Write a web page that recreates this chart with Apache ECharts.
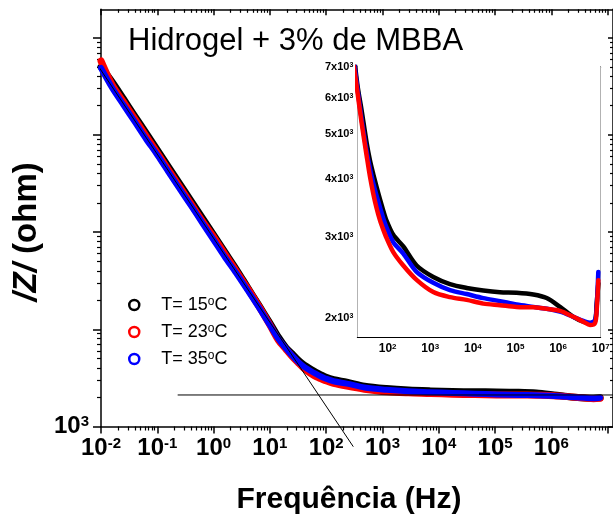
<!DOCTYPE html>
<html>
<head>
<meta charset="utf-8">
<script src="https://cdn.jsdelivr.net/npm/echarts@6/dist/echarts.min.js"></script>
<style>
html,body{margin:0;padding:0;background:#fff;overflow:hidden;}
#c{width:613px;height:521px;}
</style>
</head>
<body>
<div id="c"></div>
<script>
// ---- data ----
const FREQ = [0.01, 0.0158, 0.0251, 0.0398, 0.0631, 0.1, 0.158, 0.251, 0.398, 0.631, 1, 1.58, 2.51, 3.98, 6.31, 10, 14.1,
  19.4, 24.5, 32.1, 38.5, 46.0, 55.1, 65.9, 78.9, 94.6, 135.5, 232.8, 478.6, 1178, 2897, 7145, 17580, 43250, 106400,
  262400, 539500, 1.109e6, 2.28e6, 3.91e6, 5.61e6, 7.35e6, 8.04e6, 8.79e6];
const Z_15 = [5.00e6, 3.50e6, 2.34e6, 1.56e6, 1.047e6, 7.00e5, 4.68e5, 3.13e5, 2.09e5, 1.40e5, 9.34e4, 6.24e4, 4.17e4, 2.72e4, 1.78e4, 1.16e4, 8330,
  6430, 5640, 4800, 4390, 4100, 3845, 3620, 3420, 3250, 3030, 2860, 2600, 2455, 2370, 2325, 2295, 2276, 2270,
  2250, 2210, 2115, 2013, 1964, 1950, 1972, 2150, 2377];
const Z_23 = [5.76e6, 3.26e6, 2.18e6, 1.46e6, 9.75e5, 6.51e5, 4.35e5, 2.91e5, 1.95e5, 1.30e5, 8.91e4, 5.96e4, 3.98e4, 2.66e4, 1.74e4, 1.107e4, 7760,
  6210, 5300, 4500, 4050, 3720, 3460, 3260, 3110, 2980, 2780, 2600, 2420, 2277, 2220, 2190, 2150, 2133, 2115,
  2110, 2095, 2074, 2013, 1964, 1932, 1950, 2080, 2415];
const Z_35 = [4.88e6, 3.04e6, 2.03e6, 1.36e6, 9.08e5, 6.21e5, 4.15e5, 2.77e5, 1.86e5, 1.24e5, 8.29e4, 5.55e4, 3.79e4, 2.54e4, 1.69e4, 1.10e4, 8000,
  6320, 5400, 4600, 4215, 3920, 3680, 3480, 3290, 3140, 2920, 2760, 2520, 2385, 2300, 2255, 2210, 2177, 2140,
  2115, 2095, 2065, 2013, 1972, 1953, 1980, 2112, 2518];
const NAMES = ['T= 15°C', 'T= 23°C', 'T= 35°C'];
const COLORS = ['#000000', '#ff0000', '#0000ff'];
const MAIN_POINTS = 42; // points shown in the main panel (the sharp upturn only appears in the inset)
// guide lines
const DIAG_LINE = [[0.00702, 6.28e6], [303, 620]];
const HORIZ_LINE = [[0.23, 2110], [1.244e7, 2110]];
// axes ticks
const MAIN_X_TICKS = [0.01, 0.1, 1, 10, 100, 1e3, 1e4, 1e5, 1e6, 1e7];
const MAIN_X_LABELS = [0.01, 0.1, 1, 10, 100, 1e3, 1e4, 1e5, 1e6];
const MAIN_Y_TICKS = [1e3, 1e4, 1e5, 1e6, 1e7];
const MAIN_Y_LABELS = [1e3];
const INSET_X_TICKS = [100, 1e3, 1e4, 1e5, 1e6, 1e7];
const INSET_Y_TICKS = [2000, 3000, 4000, 5000, 6000, 7000];
const INSET_Y_MINORS = [2200, 2400, 2600, 2800, 3200, 3400, 3600, 3800, 4200, 4400, 4600, 4800, 5200, 5400, 5600, 5800, 6200, 6400, 6600, 6800];

const FONT = '"Liberation Sans", Arial, Helvetica, sans-serif';

function logMinors(eLo, eHi) {
  const out = [];
  for (let e = eLo; e <= eHi; e++) for (let k = 2; k <= 9; k++) out.push(+(k * Math.pow(10, e)).toPrecision(6));
  return out;
}
function pairs(zs, n) { return FREQ.slice(0, n).map((f, i) => [f, zs[i]]); }
function expLabel(v) {
  const e = Math.round(Math.log10(v));
  return '{b|10}{s|' + e + '}';
}

const MX = {min: 0.01, max: 1.244e7};
const MY = {min: 1000, max: 1.96e7};
const IX = {min: 19.4, max: 1e7};
const IY = {min: 1820, max: 7000};
const AX_LINE = {show: true, lineStyle: {color: '#000', width: 1.5}};
const NO_LINE = {show: false};

function axis(base) { return Object.assign({type: 'log', logBase: 10, splitLine: {show: false}}, base); }

const bigRich = {
  b: {fontSize: 24, fontWeight: 'bold', fontFamily: FONT, color: '#000'},
  s: {fontSize: 15, fontWeight: 'bold', fontFamily: FONT, color: '#000', verticalAlign: 'top'}
};
const smallRich = {
  b: {fontSize: 12, fontWeight: 'bold', fontFamily: FONT, color: '#000'},
  s: {fontSize: 8, fontWeight: 'bold', fontFamily: FONT, color: '#000', verticalAlign: 'top'}
};

const xAxes = [
  axis(Object.assign({gridIndex: 0, position: 'bottom', axisLine: AX_LINE,
    axisTick: {show: true, inside: false, length: 7, lineStyle: {color: '#000', width: 1.5}, customValues: MAIN_X_TICKS},
    axisLabel: {show: true, margin: 10, customValues: MAIN_X_LABELS, formatter: expLabel, rich: bigRich},
    name: 'Frequência (Hz)', nameLocation: 'middle', nameGap: 58,
    nameTextStyle: {fontSize: 30, fontWeight: 'bold', fontFamily: FONT, color: '#000', padding: [0, 16, 0, 0]}}, MX)),
  axis(Object.assign({gridIndex: 0, position: 'bottom', axisLine: NO_LINE,
    axisTick: {show: true, inside: false, length: 4, lineStyle: {color: '#000', width: 1.2}, customValues: logMinors(-2, 6)},
    axisLabel: {show: false}}, MX)),
  axis(Object.assign({gridIndex: 0, position: 'top', axisLine: AX_LINE,
    axisTick: {show: true, inside: true, length: 6, lineStyle: {color: '#000', width: 1.5}, customValues: MAIN_X_TICKS},
    axisLabel: {show: false}}, MX)),
  axis(Object.assign({gridIndex: 0, position: 'top', axisLine: NO_LINE,
    axisTick: {show: true, inside: true, length: 3.5, lineStyle: {color: '#000', width: 1.2}, customValues: logMinors(-2, 6)},
    axisLabel: {show: false}}, MX)),
  axis(Object.assign({gridIndex: 1, position: 'bottom', axisLine: {show: true, lineStyle: {color: '#000', width: 1}},
    axisTick: {show: true, inside: true, length: 4, lineStyle: {color: '#000', width: 1}, customValues: INSET_X_TICKS},
    axisLabel: {show: true, margin: 6, customValues: INSET_X_TICKS, formatter: expLabel, rich: smallRich}}, IX)),
  axis(Object.assign({gridIndex: 1, position: 'bottom', axisLine: NO_LINE,
    axisTick: {show: true, inside: true, length: 2, lineStyle: {color: '#000', width: 1}, customValues: logMinors(1, 6)},
    axisLabel: {show: false}}, IX)),
  axis(Object.assign({gridIndex: 1, position: 'top', axisLine: {show: true, lineStyle: {color: '#000', width: 1}},
    axisTick: {show: true, inside: true, length: 4, lineStyle: {color: '#000', width: 1}, customValues: INSET_X_TICKS},
    axisLabel: {show: false}}, IX)),
  axis(Object.assign({gridIndex: 1, position: 'top', axisLine: NO_LINE,
    axisTick: {show: true, inside: true, length: 2, lineStyle: {color: '#000', width: 1}, customValues: logMinors(1, 6)},
    axisLabel: {show: false}}, IX))
];

const yAxes = [
  axis(Object.assign({gridIndex: 0, position: 'left', axisLine: AX_LINE,
    axisTick: {show: true, inside: false, length: 8, lineStyle: {color: '#000', width: 1.5}, customValues: MAIN_Y_TICKS},
    axisLabel: {show: true, margin: 12, customValues: MAIN_Y_LABELS, formatter: expLabel, rich: bigRich},
    name: '{i|/Z/} (ohm)', nameLocation: 'middle', nameGap: 39, nameRotate: 90,
    nameTextStyle: {fontSize: 33, fontWeight: 'bold', fontFamily: FONT, color: '#000', padding: [0, 28, 0, 0],
      rich: {i: {fontSize: 33, fontWeight: 'bold', fontStyle: 'italic', fontFamily: FONT, color: '#000'}}}}, MY)),
  axis(Object.assign({gridIndex: 0, position: 'left', axisLine: NO_LINE,
    axisTick: {show: true, inside: false, length: 4, lineStyle: {color: '#000', width: 1.2}, customValues: logMinors(3, 7)},
    axisLabel: {show: false}}, MY)),
  axis(Object.assign({gridIndex: 0, position: 'right', axisLine: AX_LINE,
    axisTick: {show: true, inside: true, length: 5, lineStyle: {color: '#000', width: 1.5}, customValues: MAIN_Y_TICKS},
    axisLabel: {show: false}}, MY)),
  axis(Object.assign({gridIndex: 0, position: 'right', axisLine: NO_LINE,
    axisTick: {show: true, inside: true, length: 3, lineStyle: {color: '#000', width: 1.2}, customValues: logMinors(3, 7)},
    axisLabel: {show: false}}, MY)),
  axis(Object.assign({gridIndex: 1, position: 'left', axisLine: {show: true, lineStyle: {color: '#000', width: 1}},
    axisTick: {show: true, inside: true, length: 4, lineStyle: {color: '#000', width: 1}, customValues: INSET_Y_TICKS},
    axisLabel: {show: true, margin: 4, customValues: INSET_Y_TICKS,
      formatter: v => '{b|' + Math.round(v / 1000) + 'x10}{s|3}',
      rich: {b: {fontSize: 11, fontWeight: 'bold', fontFamily: FONT, color: '#000'},
             s: {fontSize: 7, fontWeight: 'bold', fontFamily: FONT, color: '#000', verticalAlign: 'top'}}}}, IY)),
  axis(Object.assign({gridIndex: 1, position: 'left', axisLine: NO_LINE,
    axisTick: {show: true, inside: true, length: 2, lineStyle: {color: '#000', width: 1}, customValues: INSET_Y_MINORS},
    axisLabel: {show: false}}, IY)),
  axis(Object.assign({gridIndex: 1, position: 'right', axisLine: {show: true, lineStyle: {color: '#000', width: 1}},
    axisTick: {show: true, inside: true, length: 4, lineStyle: {color: '#000', width: 1}, customValues: INSET_Y_TICKS},
    axisLabel: {show: false}}, IY)),
  axis(Object.assign({gridIndex: 1, position: 'right', axisLine: NO_LINE,
    axisTick: {show: true, inside: true, length: 2, lineStyle: {color: '#000', width: 1}, customValues: INSET_Y_MINORS},
    axisLabel: {show: false}}, IY))
];

function curve(i, inset, width) {
  return {
    name: NAMES[i], type: 'line', xAxisIndex: inset ? 4 : 0, yAxisIndex: inset ? 4 : 0,
    data: pairs([Z_15, Z_23, Z_35][i], inset ? FREQ.length : MAIN_POINTS), smooth: 0.3,
    symbol: 'emptyCircle', symbolSize: 4, showSymbol: false,
    itemStyle: {color: COLORS[i], borderColor: COLORS[i], borderWidth: 1},
    lineStyle: {color: COLORS[i], width: width, cap: 'round', join: 'round'},
    emphasis: {disabled: true}, animation: false, clip: true
  };
}

const series = [
  curve(0, false, 7), curve(1, false, 7), curve(2, false, 6),
  {type: 'line', xAxisIndex: 0, yAxisIndex: 0, data: DIAG_LINE, symbol: 'none', clip: false,
   lineStyle: {color: '#000', width: 1}, animation: false, silent: true},
  {type: 'line', xAxisIndex: 0, yAxisIndex: 0, data: HORIZ_LINE, symbol: 'none', clip: true,
   lineStyle: {color: '#000', width: 1}, animation: false, silent: true},
  curve(0, true, 4.5), curve(2, true, 4.5), curve(1, true, 4.5)
];

const chart = echarts.init(document.getElementById('c'), null, {renderer: 'canvas'});
chart.setOption({
  backgroundColor: '#fff',
  animation: false,
  title: {text: 'Hidrogel + 3% de MBBA', left: 128, top: 26, padding: 0,
    textStyle: {fontSize: 31, fontWeight: 'normal', fontFamily: FONT, color: '#000'}},
  legend: {
    orient: 'vertical', left: 123, top: 291, itemWidth: 44, itemHeight: 10, itemGap: 9,
    icon: 'circle', selectedMode: false,
    data: NAMES.map((n, i) => ({name: n, itemStyle: {color: '#fff', borderColor: COLORS[i], borderWidth: 2.5}})),
    formatter: n => n.replace('°', '{sup|o}'),
    textStyle: {fontSize: 18, fontFamily: FONT, color: '#000', lineHeight: 18,
      rich: {sup: {fontSize: 12, fontFamily: FONT, color: '#000', verticalAlign: 'top', lineHeight: 18}}}
  },
  grid: [
    {left: 101, top: 9.3, width: 513.5, height: 417.2, show: false},
    {left: 357.3, top: 67, width: 243.4, height: 270, show: true, backgroundColor: '#fff', borderWidth: 0, z: 3}
  ],
  xAxis: xAxes,
  yAxis: yAxes,
  series: series
});
</script>
</body>
</html>
